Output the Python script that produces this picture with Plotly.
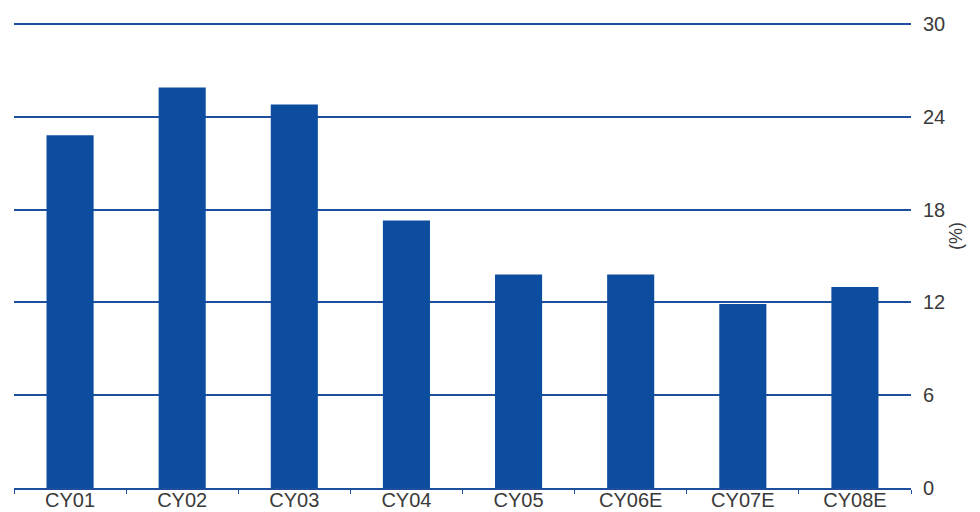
import plotly.graph_objects as go

# Annual growth, percent
categories = ["CY01", "CY02", "CY03", "CY04", "CY05", "CY06E", "CY07E", "CY08E"]
growth_pct = [22.8, 25.9, 24.8, 17.3, 13.8, 13.8, 11.9, 13.0]
y_ticks = [0, 6, 12, 18, 24, 30]

BAR_BLUE = "#0d4da0"
LINE_BLUE = "#1d4f9e"
TEXT_GREY = "#3a3a3a"
FONT = "Liberation Sans, Arial, sans-serif"

fig = go.Figure(
    go.Bar(
        x=categories,
        y=growth_pct,
        marker=dict(color=BAR_BLUE, line=dict(width=0)),
    )
)

fig.update_layout(
    width=980,
    height=512,
    margin=dict(l=14, r=69, t=22, b=24, autoexpand=False),
    paper_bgcolor="white",
    plot_bgcolor="white",
    bargap=0.58,
    showlegend=False,
    font=dict(family=FONT, size=19, color=TEXT_GREY),
    xaxis=dict(
        automargin=False,
        showline=True,
        linecolor=LINE_BLUE,
        linewidth=1.5,
        ticks="outside",
        tickson="boundaries",
        ticklen=4,
        tickcolor=LINE_BLUE,
        tickwidth=1,
        showgrid=False,
        ticklabelstandoff=-7,
        tickfont=dict(family=FONT, size=20, color=TEXT_GREY),
    ),
    yaxis=dict(
        automargin=False,
        side="right",
        range=[0, 30.13],
        tickvals=y_ticks,
        ticktext=[str(v) for v in y_ticks],
        showgrid=True,
        gridcolor=LINE_BLUE,
        gridwidth=1.5,
        zeroline=False,
        showline=False,
        ticks="",
        ticklabelstandoff=11,
        tickfont=dict(family=FONT, size=20, color=TEXT_GREY),
    ),
    annotations=[
        dict(
            text="(%)",
            xref="paper",
            yref="paper",
            x=1.0636,
            y=0.541,
            textangle=-90,
            showarrow=False,
            font=dict(family=FONT, size=18, color=TEXT_GREY),
        )
    ],
)

fig.write_html("out.html")
